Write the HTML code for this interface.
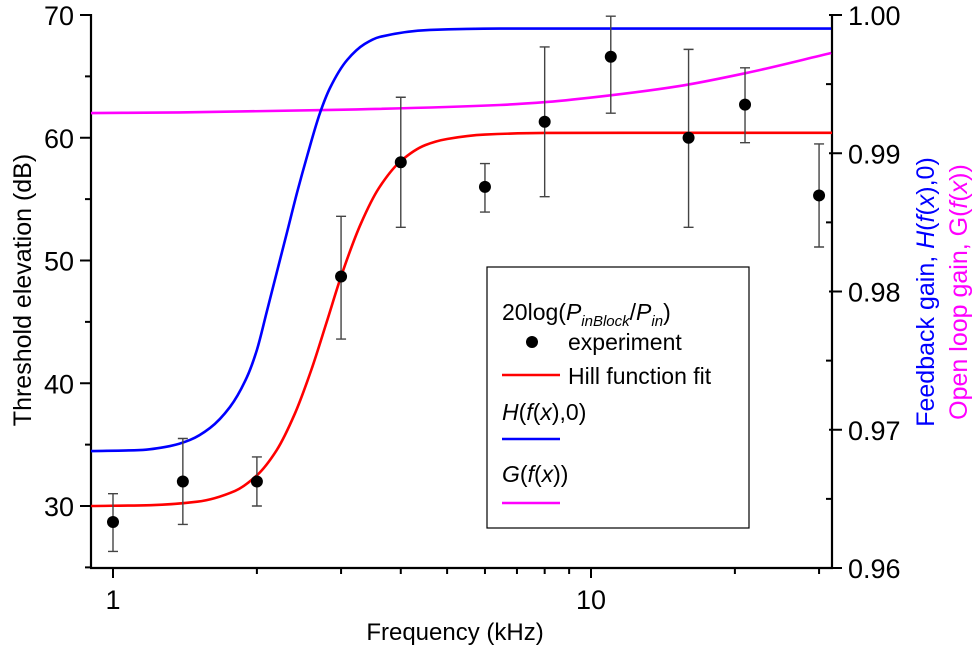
<!DOCTYPE html>
<html><head><meta charset="utf-8"><style>
html,body{margin:0;padding:0;background:#fff}
svg{display:block;font-family:"Liberation Sans",sans-serif}
</style></head><body>
<svg id="chart" width="980" height="651" viewBox="0 0 980 651" xmlns="http://www.w3.org/2000/svg">
<g id="axes"></g>
<g id="curves"></g>
<g id="points"></g>
<g id="labels">
<text x="455" y="640" font-size="24" text-anchor="middle">Frequency (kHz)</text>
<text transform="translate(31,290) rotate(-90)" font-size="25" text-anchor="middle">Threshold elevation (dB)</text>
<text transform="translate(934,292) rotate(-90)" font-size="25" text-anchor="middle" fill="#0000ff">Feedback gain, <tspan font-style="italic">H</tspan>(<tspan font-style="italic">f</tspan>(<tspan font-style="italic">x</tspan>),0)</text>
<text transform="translate(967,292) rotate(-90)" font-size="25" text-anchor="middle" fill="#ff00ff">Open loop gain, G(<tspan font-style="italic">f</tspan>(<tspan font-style="italic">x</tspan>))</text>
</g>
<g id="legend">
<rect x="487" y="267" width="262" height="261" fill="#fff" stroke="#000" stroke-width="1.2"/>
<text x="502" y="320" font-size="23">20log(<tspan font-style="italic">P</tspan><tspan font-style="italic" font-size="15" dy="6">inBlock</tspan><tspan dy="-6">/</tspan><tspan font-style="italic">P</tspan><tspan font-style="italic" font-size="15" dy="6">in</tspan><tspan dy="-6">)</tspan></text>
<circle cx="532" cy="342" r="6" fill="#000"/>
<text x="568" y="350" font-size="23">experiment</text>
<line x1="502" x2="560" y1="375" y2="375" stroke="#ff0000" stroke-width="2.5"/>
<text x="568" y="384" font-size="23">Hill function fit</text>
<text x="502" y="420" font-size="23"><tspan font-style="italic">H</tspan>(<tspan font-style="italic">f</tspan>(<tspan font-style="italic">x</tspan>),0)</text>
<line x1="502" x2="560" y1="439" y2="439" stroke="#0000ff" stroke-width="2.5"/>
<text x="502" y="482" font-size="23"><tspan font-style="italic">G</tspan>(<tspan font-style="italic">f</tspan>(<tspan font-style="italic">x</tspan>))</text>
<line x1="502" x2="560" y1="503" y2="503" stroke="#ff00ff" stroke-width="2.5"/>
</g>
</svg>
<script>
// experiment data
const expFreq = [1, 1.4, 2, 3, 4, 6, 8, 11, 16, 21, 30];
const expValue = [28.7, 32.0, 32.0, 48.7, 58.0, 56.0, 61.3, 66.6, 60.0, 62.7, 55.3];
const expHigh = [31.0, 35.5, 34.0, 53.6, 63.3, 57.9, 67.4, 69.9, 67.2, 65.7, 59.5];
const expLow = [26.3, 28.5, 30.0, 43.6, 52.7, 53.95, 55.2, 62.0, 52.7, 59.6, 51.1];
// Hill fit (left axis, dB)
const hillFreq = [0.9, 1.2, 1.5, 1.8, 2.0, 2.2, 2.4, 2.6, 2.8, 3.0, 3.3, 3.6, 4.0, 4.5, 5, 6, 8, 12, 20, 32];
const hillValue = [30.0, 30.07, 30.35, 31.23, 32.5, 34.55, 37.5, 41.1, 45.0, 48.7, 53.0, 55.9, 58.1, 59.4, 59.9, 60.26, 60.39, 60.4, 60.4, 60.4];
// H(f(x),0) (right axis)
const hFreq = [0.899, 1.139, 1.316, 1.449, 1.596, 1.757, 1.907, 2.0, 2.097, 2.202, 2.313, 2.429, 2.551, 2.71, 2.844, 3.088, 3.36, 3.61, 4.60, 6.44, 31.8];
const hValue = [0.96846, 0.96853, 0.96882, 0.96926, 0.97013, 0.97165, 0.97382, 0.97577, 0.97852, 0.98141, 0.9843, 0.9872, 0.98987, 0.99291, 0.99472, 0.99674, 0.9979, 0.99841, 0.99892, 0.99902, 0.99902];
// G(f(x)) (right axis)
const gFreq = [0.899, 1.381, 2.844, 6.44, 8.09, 11.1, 15.3, 21.1, 31.8];
const gValue = [0.99291, 0.99295, 0.99313, 0.99349, 0.99371, 0.99421, 0.99486, 0.9958, 0.99725];
// ticks
const leftTicks = [30, 40, 50, 60, 70];
const leftMinor = [25, 35, 45, 55, 65];
const rightTicks = [0.96, 0.97, 0.98, 0.99, 1.00];
const rightTickLabels = ["0.96", "0.97", "0.98", "0.99", "1.00"];
const xMajor = [1, 10];
const xMinor = [2, 3, 4, 5, 6, 7, 8, 9, 20, 30];

const NS = "http://www.w3.org/2000/svg";
const X0 = 91, X1 = 832, Y0 = 15, Y1 = 568;
function xs(f){ return 113 + 478 * Math.log10(f); }
function yL(v){ return 506 - (v - 30) * 12.275; }
function yR(g){ return 15 + (1 - g) * 13825; }
function mk(tag, attrs, parent){
  const e = document.createElementNS(NS, tag);
  for (const k in attrs) e.setAttribute(k, attrs[k]);
  parent.appendChild(e); return e;
}
const axes = document.getElementById('axes');
let e;
e = mk('line', {x1:X0, x2:X0, y1:Y0-1, y2:Y1, stroke:'#000', 'stroke-width':2.2}, axes);


e = mk('line', {x1:X1, x2:X1, y1:Y0-1, y2:Y1+1, stroke:'#000', 'stroke-width':2.2}, axes);


e = mk('line', {x1:X0-1, x2:X1+1, y1:Y1, y2:Y1, stroke:'#000', 'stroke-width':2.2}, axes);


leftTicks.forEach(v => {
  const y = yL(v);
  let t = mk('line', {x1:X0-11, x2:X0, y1:y, y2:y, stroke:'#000', 'stroke-width':2}, axes);
  
  
  let l = mk('text', {x:X0-17, y:y+10, 'font-size':27, 'text-anchor':'end'}, axes);
  l.textContent = v;
  
  
});
leftMinor.forEach(v => {
  const y = yL(v);
  let t = mk('line', {x1:X0-6, x2:X0, y1:y, y2:y, stroke:'#000', 'stroke-width':2}, axes);
  
  
});
rightTicks.forEach((g, i) => {
  const y = yR(g);
  let t = mk('line', {x1:X1-3, x2:X1+10, y1:y, y2:y, stroke:'#000', 'stroke-width':2}, axes);
  
  
  let l = mk('text', {x:X1+16, y:y+10, 'font-size':27}, axes);
  l.textContent = rightTickLabels[i];
  
  
  if (i < rightTicks.length - 1) {
    const ym = yR(g + 0.005);
    let m = mk('line', {x1:X1-6, x2:X1, y1:ym, y2:ym, stroke:'#000', 'stroke-width':2}, axes);
    
    
  }
});
xMajor.forEach(f => {
  const x = xs(f);
  let t = mk('line', {x1:x, x2:x, y1:Y1, y2:Y1+10, stroke:'#000', 'stroke-width':2}, axes);
  
  
  let l = mk('text', {x:x, y:Y1+41, 'font-size':27, 'text-anchor':'middle'}, axes);
  l.textContent = f;
  
  
});
xMinor.forEach(f => {
  const x = xs(f);
  let t = mk('line', {x1:x, x2:x, y1:Y1, y2:Y1+6, stroke:'#000', 'stroke-width':2}, axes);
  
  
});

const curves = document.getElementById('curves');
// monotone cubic (Fritsch-Carlson) in pixel space
function smoothPath(pts){
  const n = pts.length;
  const dx = [], sl = [];
  for (let i = 0; i < n - 1; i++) {
    dx.push(pts[i+1][0] - pts[i][0]);
    sl.push(dx[i] === 0 ? 0 : (pts[i+1][1] - pts[i][1]) / dx[i]);
  }
  const m = new Array(n);
  m[0] = sl[0]; m[n-1] = sl[n-2];
  for (let i = 1; i < n - 1; i++) {
    if (sl[i-1] * sl[i] <= 0) m[i] = 0;
    else {
      const w1 = 2*dx[i] + dx[i-1], w2 = dx[i] + 2*dx[i-1];
      m[i] = (w1 + w2) / (w1 / sl[i-1] + w2 / sl[i]);
    }
  }
  let d = 'M' + pts[0][0].toFixed(2) + ',' + pts[0][1].toFixed(2);
  for (let i = 0; i < n - 1; i++) {
    const h = dx[i] / 3;
    d += 'C' + (pts[i][0] + h).toFixed(2) + ',' + (pts[i][1] + m[i]*h).toFixed(2) + ' ' +
         (pts[i+1][0] - h).toFixed(2) + ',' + (pts[i+1][1] - m[i+1]*h).toFixed(2) + ' ' +
         pts[i+1][0].toFixed(2) + ',' + pts[i+1][1].toFixed(2);
  }
  return d;
}
const gPts = gFreq.map((f, i) => [Math.max(X0, xs(f)), yR(gValue[i])]);
e = mk('path', {d:smoothPath(gPts), fill:'none', stroke:'#ff00ff', 'stroke-width':2.6}, curves);


const hPts = hFreq.map((f, i) => [Math.min(X1, Math.max(X0, xs(f))), yR(hValue[i])]);
e = mk('path', {d:smoothPath(hPts), fill:'none', stroke:'#0000ff', 'stroke-width':2.6}, curves);


const rPts = hillFreq.map((f, i) => [Math.min(X1, Math.max(X0, xs(f))), yL(hillValue[i])]);
e = mk('path', {d:smoothPath(rPts), fill:'none', stroke:'#ff0000', 'stroke-width':2.6}, curves);



const points = document.getElementById('points');
expFreq.forEach((f, i) => {
  const x = xs(f), yh = Math.max(Y0, yL(expHigh[i])), yl = yL(expLow[i]);
  let b = mk('path', {d:`M${x},${yh}V${yl}M${x-5},${yh}H${x+5}M${x-5},${yl}H${x+5}`, stroke:'#444', 'stroke-width':1.4, fill:'none'}, points);
  
  
  let c = mk('circle', {cx:x, cy:yL(expValue[i]), r:6, fill:'#000'}, points);
  
  
});
</script>
</body></html>
